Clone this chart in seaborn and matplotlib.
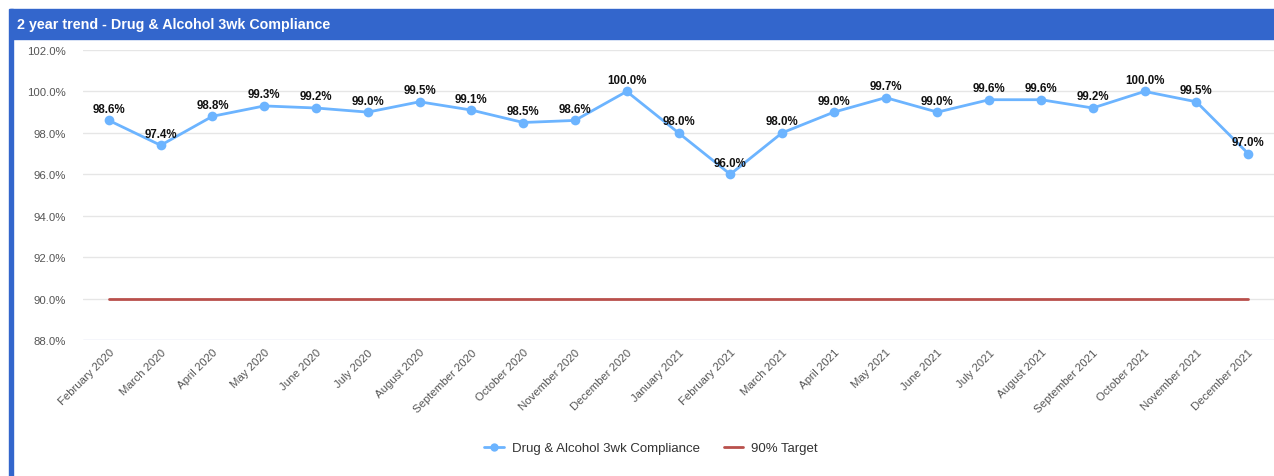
import matplotlib
matplotlib.use("Agg")
import matplotlib.pyplot as plt
import seaborn as sns
import pandas as pd
from matplotlib.patches import Rectangle
from matplotlib.lines import Line2D

months = ["February 2020", "March 2020", "April 2020", "May 2020", "June 2020", "July 2020",
          "August 2020", "September 2020", "October 2020", "November 2020", "December 2020",
          "January 2021", "February 2021", "March 2021", "April 2021", "May 2021", "June 2021",
          "July 2021", "August 2021", "September 2021", "October 2021", "November 2021",
          "December 2021"]
compliance = [98.6, 97.4, 98.8, 99.3, 99.2, 99.0, 99.5, 99.1, 98.5, 98.6, 100.0,
              98.0, 96.0, 98.0, 99.0, 99.7, 99.0, 99.6, 99.6, 99.2, 100.0, 99.5, 97.0]
target = [90.0] * len(months)
y_ticks = [88.0, 90.0, 92.0, 94.0, 96.0, 98.0, 100.0, 102.0]

series_name = "Drug & Alcohol 3wk Compliance"
target_name = "90% Target"
title = "2 year trend - Drug & Alcohol 3wk Compliance"

sns.set_theme(style="white")
plt.rcParams["font.family"] = ["Liberation Sans", "DejaVu Sans"]

df = pd.DataFrame({"idx": range(len(months)), "month": months,
                   "compliance": compliance, "target": target})

W, H = 1274, 477
fig = plt.figure(figsize=(W / 100, H / 100), dpi=100)
fig.patch.set_facecolor("white")

# header bar and left border
fig.patches.append(Rectangle((10 / W, 1 - 40 / H), 1 - 10 / W, 30 / H,
                             transform=fig.transFigure, color="#3366cc", zorder=0))
fig.patches.append(Rectangle((9 / W, 0), 4 / W, 1 - 10 / H,
                             transform=fig.transFigure, color="#3366cc", zorder=0))
fig.text(17 / W, 1 - 25 / H, title, color="white", fontsize=10.3, fontweight="bold",
         va="center", ha="left")

ax = fig.add_axes([83 / W, 1 - 341 / H, 1 - 83 / W, 290 / H])

line_col = "#6cb4ff"
target_col = "#b9504c"

sns.lineplot(data=df, x="idx", y="target", ax=ax, color=target_col, linewidth=2,
             zorder=2, legend=False)
sns.lineplot(data=df, x="idx", y="compliance", ax=ax, color=line_col, linewidth=2,
             marker="o", markersize=7, markeredgewidth=0, zorder=3, legend=False)

for i, v in enumerate(compliance):
    ax.annotate(f"{v:.1f}%", (i, v), xytext=(0, 4), textcoords="offset points",
                ha="center", va="bottom", fontsize=8.3, fontweight="bold", color="#111111")

ax.set_xlim(-0.5, len(months) - 0.5)
ax.set_ylim(88, 102)
ax.set_yticks(y_ticks)
ax.set_yticklabels([f"{t:.1f}%" for t in y_ticks], fontsize=8.2, color="#555555")
ax.set_xticks(range(len(months)))
ax.set_xticklabels(months, rotation=45, ha="right", rotation_mode="anchor",
                   fontsize=8.2, color="#555555")
ax.tick_params(axis="both", length=0)
ax.tick_params(axis="y", pad=12)
ax.tick_params(axis="x", pad=5)
ax.set_xlabel("")
ax.set_ylabel("")
for t in y_ticks:
    ax.axhline(t, color="#ccd6eb" if t == 88 else "#e6e6e6", linewidth=1, zorder=1)
for s in ax.spines.values():
    s.set_visible(False)

handles = [Line2D([0], [0], color=line_col, linewidth=2, marker="o", markersize=6,
                  markeredgewidth=0),
           Line2D([0], [0], color=target_col, linewidth=2)]
fig.legend(handles, [series_name, target_name], loc="center",
           bbox_to_anchor=(651 / W, 1 - 449 / H), ncol=2, frameon=False,
           fontsize=9.5, handlelength=1.5, handletextpad=0.6, columnspacing=1.8,
           labelcolor="#333333")

fig.savefig("out.png", dpi=100, facecolor="white")
